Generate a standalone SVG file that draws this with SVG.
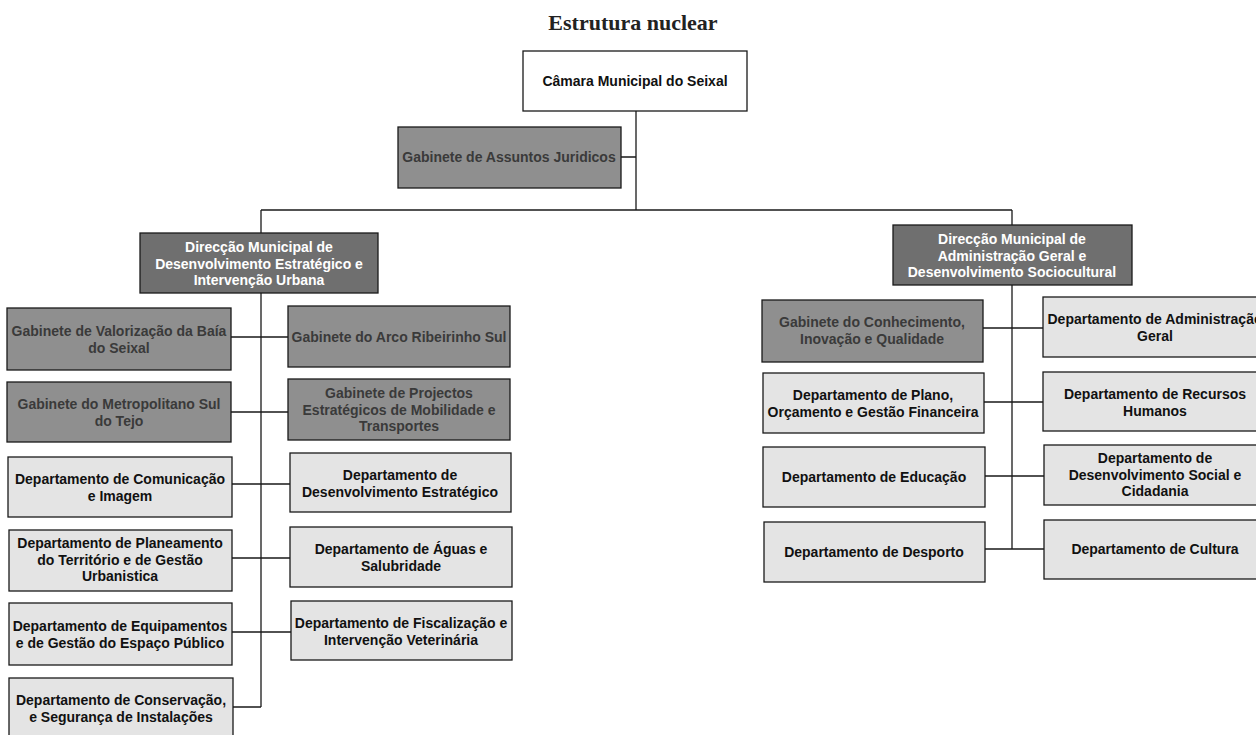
<svg xmlns="http://www.w3.org/2000/svg" width="1256" height="735" viewBox="0 0 1256 735">
<style>
.b{stroke:#1a1a1a;stroke-width:1.3}
.w{fill:#ffffff}
.d{fill:#6f6f6f}
.g{fill:#8f8f8f}
.l{fill:#e4e4e4}
text{font-family:"Liberation Sans",Arial,sans-serif;font-weight:bold;font-size:14px;text-anchor:middle}
.td{fill:#ffffff}
.tg{fill:#3a3a3a}
.tl{fill:#111111}
.c{stroke:#1a1a1a;stroke-width:1.3;fill:none}
</style>
<rect width="1256" height="735" fill="#ffffff"/>
<text x="633" y="30" style="font-family:'Liberation Serif','Times New Roman',serif;font-size:22px;fill:#222">Estrutura nuclear</text>
<g id="connectors">
<path class="c" d="M636 111V210M261 210H1012M261 210V233M1012 210V225M621 157H636"/>
<path class="c" d="M261 293V707M231 337H288M231 412H288M232 484H290M232 558H290M232 632H291M233 707H261"/>
<path class="c" d="M1012 285V549M983 328H1043M984 402H1043M985 476H1044M985 549H1044"/>
</g>
<g id="camara"><rect class="b w" x="523" y="51" width="224" height="60"/><text class="tl" x="635" y="86">Câmara Municipal do Seixal</text></g>
<g id="juridicos"><rect class="b g" x="398" y="127" width="223" height="61"/><text class="tg" x="509" y="162">Gabinete de Assuntos Juridicos</text></g>
<g id="dir-left"><rect class="b d" x="140" y="233" width="238" height="60"/><text class="td" x="259" y="252">Direcção Municipal de<tspan x="259" dy="16.5">Desenvolvimento Estratégico e</tspan><tspan x="259" dy="16.5">Intervenção Urbana</tspan></text></g>
<g id="valorizacao"><rect class="b g" x="7" y="308" width="224" height="62"/><text class="tg" x="119" y="336">Gabinete de Valorização da Baía<tspan x="119" dy="16.5">do Seixal</tspan></text></g>
<g id="arco"><rect class="b g" x="288" y="306" width="222" height="61"/><text class="tg" x="399" y="342">Gabinete do Arco Ribeirinho Sul</text></g>
<g id="metropolitano"><rect class="b g" x="7" y="382" width="224" height="60"/><text class="tg" x="119" y="409">Gabinete do Metropolitano Sul<tspan x="119" dy="16.5">do Tejo</tspan></text></g>
<g id="projectos"><rect class="b g" x="288" y="379" width="222" height="61"/><text class="tg" x="399" y="398">Gabinete de Projectos<tspan x="399" dy="16.5">Estratégicos de Mobilidade e</tspan><tspan x="399" dy="16.5">Transportes</tspan></text></g>
<g id="comunicacao"><rect class="b l" x="8" y="457" width="224" height="60"/><text class="tl" x="120" y="484">Departamento de Comunicação<tspan x="120" dy="16.5">e Imagem</tspan></text></g>
<g id="desenv-estrategico"><rect class="b l" x="290" y="453" width="221" height="59"/><text class="tl" x="400" y="480">Departamento de<tspan x="400" dy="16.5">Desenvolvimento Estratégico</tspan></text></g>
<g id="planeamento"><rect class="b l" x="9" y="530" width="223" height="61"/><text class="tl" x="120" y="548">Departamento de Planeamento<tspan x="120" dy="16.5">do Território e de Gestão</tspan><tspan x="120" dy="16.5">Urbanistica</tspan></text></g>
<g id="aguas"><rect class="b l" x="290" y="527" width="222" height="60"/><text class="tl" x="401" y="554">Departamento de Águas e<tspan x="401" dy="16.5">Salubridade</tspan></text></g>
<g id="equipamentos"><rect class="b l" x="9" y="603" width="223" height="62"/><text class="tl" x="120" y="631">Departamento de Equipamentos<tspan x="120" dy="16.5">e de Gestão do Espaço Público</tspan></text></g>
<g id="fiscalizacao"><rect class="b l" x="291" y="601" width="221" height="59"/><text class="tl" x="401" y="628">Departamento de Fiscalização e<tspan x="401" dy="16.5">Intervenção Veterinária</tspan></text></g>
<g id="conservacao"><rect class="b l" x="9" y="678" width="224" height="62"/><text class="tl" x="121" y="705">Departamento de Conservação,<tspan x="121" dy="16.5">e Segurança de Instalações</tspan></text></g>
<g id="dir-right"><rect class="b d" x="893" y="225" width="239" height="60"/><text class="td" x="1012" y="244">Direcção Municipal de<tspan x="1012" dy="16.5">Administração Geral e</tspan><tspan x="1012" dy="16.5">Desenvolvimento Sociocultural</tspan></text></g>
<g id="conhecimento"><rect class="b g" x="762" y="300" width="221" height="62"/><text class="tg" x="872" y="327">Gabinete do Conhecimento,<tspan x="872" dy="16.5">Inovação e Qualidade</tspan></text></g>
<g id="adm-geral"><rect class="b l" x="1043" y="297" width="223" height="60"/><text class="tl" x="1155" y="324">Departamento de Administração<tspan x="1155" dy="16.5">Geral</tspan></text></g>
<g id="plano"><rect class="b l" x="763" y="373" width="221" height="60"/><text class="tl" x="873" y="400">Departamento de Plano,<tspan x="873" dy="16.5">Orçamento e Gestão Financeira</tspan></text></g>
<g id="rh"><rect class="b l" x="1043" y="372" width="223" height="59"/><text class="tl" x="1155" y="399">Departamento de Recursos<tspan x="1155" dy="16.5">Humanos</tspan></text></g>
<g id="educacao"><rect class="b l" x="763" y="447" width="222" height="60"/><text class="tl" x="874" y="482">Departamento de Educação</text></g>
<g id="desenv-social"><rect class="b l" x="1044" y="445" width="222" height="60"/><text class="tl" x="1155" y="463">Departamento de<tspan x="1155" dy="16.5">Desenvolvimento Social e</tspan><tspan x="1155" dy="16.5">Cidadania</tspan></text></g>
<g id="desporto"><rect class="b l" x="764" y="522" width="221" height="60"/><text class="tl" x="874" y="557">Departamento de Desporto</text></g>
<g id="cultura"><rect class="b l" x="1044" y="520" width="222" height="59"/><text class="tl" x="1155" y="554">Departamento de Cultura</text></g>
</svg>
